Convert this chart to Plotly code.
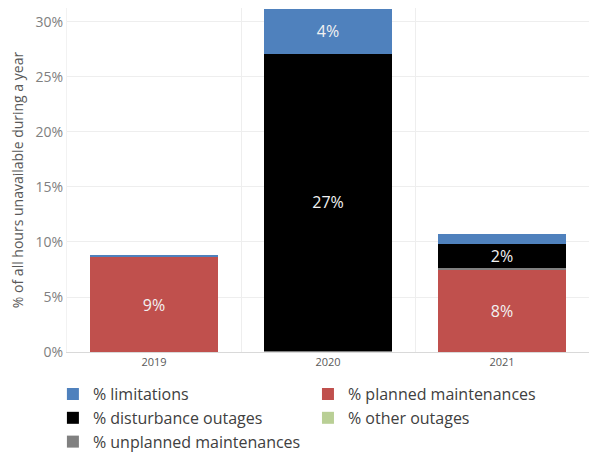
import plotly.graph_objects as go

years = ["2019", "2020", "2021"]

# shares of all hours in the year (fractions)
planned = [0.086, 0.0, 0.075]
unplanned = [0.0, 0.001, 0.0015]
disturbance = [0.0, 0.27, 0.022]
other = [0.0, 0.0, 0.0]
limitations = [0.002, 0.041, 0.009]

series = [
    ("% planned maintenances", planned, "#C0504D", 2),
    ("% unplanned maintenances", unplanned, "#808080", 5),
    ("% disturbance outages", disturbance, "#000000", 3),
    ("% other outages", other, "#B9CF95", 4),
    ("% limitations", limitations, "#4F81BD", 1),
]

FONT = "Open Sans"

fig = go.Figure()
for name, vals, col, rank in series:
    labels = [f"{v:.0%}" if v >= 0.015 else "" for v in vals]
    fig.add_trace(go.Bar(
        x=years, y=vals, name=name, marker_color=col,
        marker_line_width=0, legendrank=rank,
        text=labels, textposition="inside", insidetextanchor="middle",
        constraintext="none",
        insidetextfont=dict(color="#F2F2F2", size=16, family=FONT),
        hoverinfo="x+y+name",
    ))

# page body has an 8px margin, so the figure starts at (8, 8)
fig.update_layout(
    barmode="stack",
    bargap=0.265,
    width=592, height=445,
    margin=dict(l=59, r=11, t=0, b=101, autoexpand=False),
    plot_bgcolor="white",
    paper_bgcolor="white",
    font=dict(family=FONT, color="#595959"),
    legend=dict(
        orientation="h", x=-0.027, xanchor="left", y=-0.073, yanchor="top",
        entrywidth=0.439, entrywidthmode="fraction", itemwidth=30,
        font=dict(size=16, color="#404040"),
        traceorder="normal",
        tracegroupgap=0,
    ),
)
fig.update_xaxes(
    tickson="boundaries", showgrid=True, gridcolor="#EEEEEE",
    ticks="", tickfont=dict(size=11, color="#595959"),
    showline=True, linecolor="#D9D9D9",
)
fig.update_yaxes(
    range=[0, 0.3127], tickformat=".0%", dtick=0.05,
    showgrid=True, gridcolor="#EEEEEE", zeroline=False,
    tickfont=dict(size=14, color="#808080"),
    title=dict(text="% of all hours unavailable during a year",
               font=dict(size=14, color="#595959"), standoff=13),
    showline=True, linecolor="#F2F2F2",
)

fig.write_html("out.html")
